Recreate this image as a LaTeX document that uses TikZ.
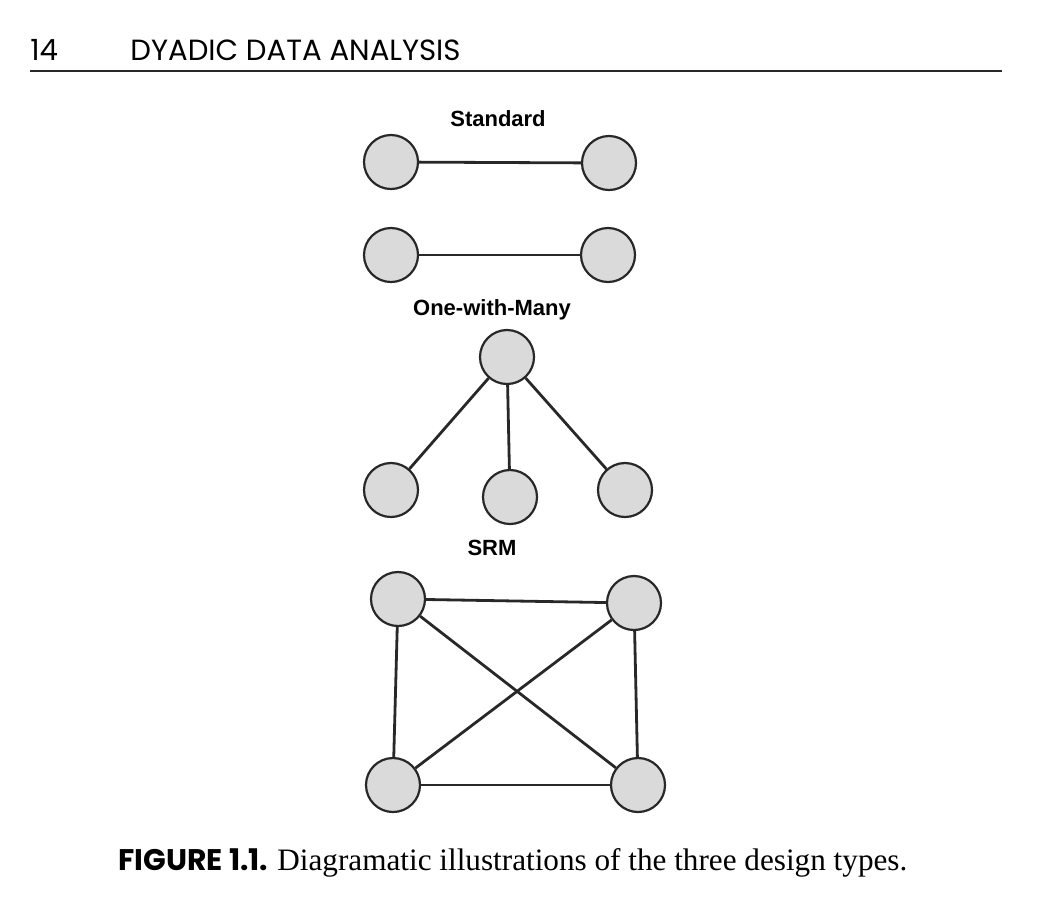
\documentclass[tikz,border=0pt]{standalone}
\usepackage{fontspec}
\setmainfont{Liberation Serif}
\newfontfamily\headfont{Poppins}
\newfontfamily\labfont{Liberation Sans}
\definecolor{nodefill}{RGB}{218,218,218}
\definecolor{inkgray}{RGB}{40,40,40}

\tikzset{
  dyad/.style={circle,draw=inkgray,line width=1.1pt,fill=nodefill,minimum size=27pt,inner sep=0pt},
  tie/.style={draw=inkgray,line width=1.4pt},
  design/.style={font=\labfont\bfseries\fontsize{11}{13}\selectfont,anchor=base,inner sep=0pt}
}

\begin{document}
\begin{tikzpicture}[x=0.5pt,y=-0.5pt]
\useasboundingbox (0,0) rectangle (1042,902);

% running head
\node[anchor=base west,inner sep=0pt,font=\headfont\fontsize{14.6}{17}\selectfont] (pageno) at (30,60) {14};
\node[anchor=base west,inner sep=0pt,font=\headfont\fontsize{14.6}{17}\selectfont] (runhead) at (130,60) {DYADIC DATA ANALYSIS};
\coordinate (rulel) at (30,71);
\coordinate (ruler) at (1002,71);
\draw[line width=1pt,inkgray] (rulel) -- (ruler);

% standard
\node[design] (stdlab) at (498,126) {Standard};
\node[dyad] (std1a) at (391,162) {};
\node[dyad] (std1b) at (609,163) {};
\node[dyad] (std2a) at (391,255) {};
\node[dyad] (std2b) at (608,255) {};
\draw[tie] (std1a) -- (std1b);
\draw[tie] (std2a) -- (std2b);

% one-with-many
\node[design] (owmlab) at (492,315) {One-with-Many};
\node[dyad] (one) at (507,357) {};
\node[dyad] (many1) at (391,490) {};
\node[dyad] (many2) at (510,497) {};
\node[dyad] (many3) at (625,490) {};
\foreach \m in {many1,many2,many3}
  \draw[tie] (one) -- (\m);

% round robin
\node[design] (srmlab) at (492,555) {SRM};
\node[dyad] (srm1) at (398,599) {};
\node[dyad] (srm2) at (634,603) {};
\node[dyad] (srm3) at (393,785) {};
\node[dyad] (srm4) at (638,785) {};
\draw[tie] (srm1) -- (srm2);
\draw[tie] (srm1) -- (srm3);
\draw[tie] (srm1) -- (srm4);
\draw[tie] (srm2) -- (srm3);
\draw[tie] (srm2) -- (srm4);
\draw[tie] (srm3) -- (srm4);

% caption
\node[anchor=base west,inner sep=0pt,font=\headfont\bfseries\fontsize{14.9}{17}\selectfont] (figlab) at (118,870) {FIGURE 1.1.};
\node[anchor=base west,inner sep=0pt,font=\fontsize{15.6}{18}\selectfont] (figtext) at (277,870) {Diagramatic illustrations of the three design types.};

\end{tikzpicture}
\end{document}
